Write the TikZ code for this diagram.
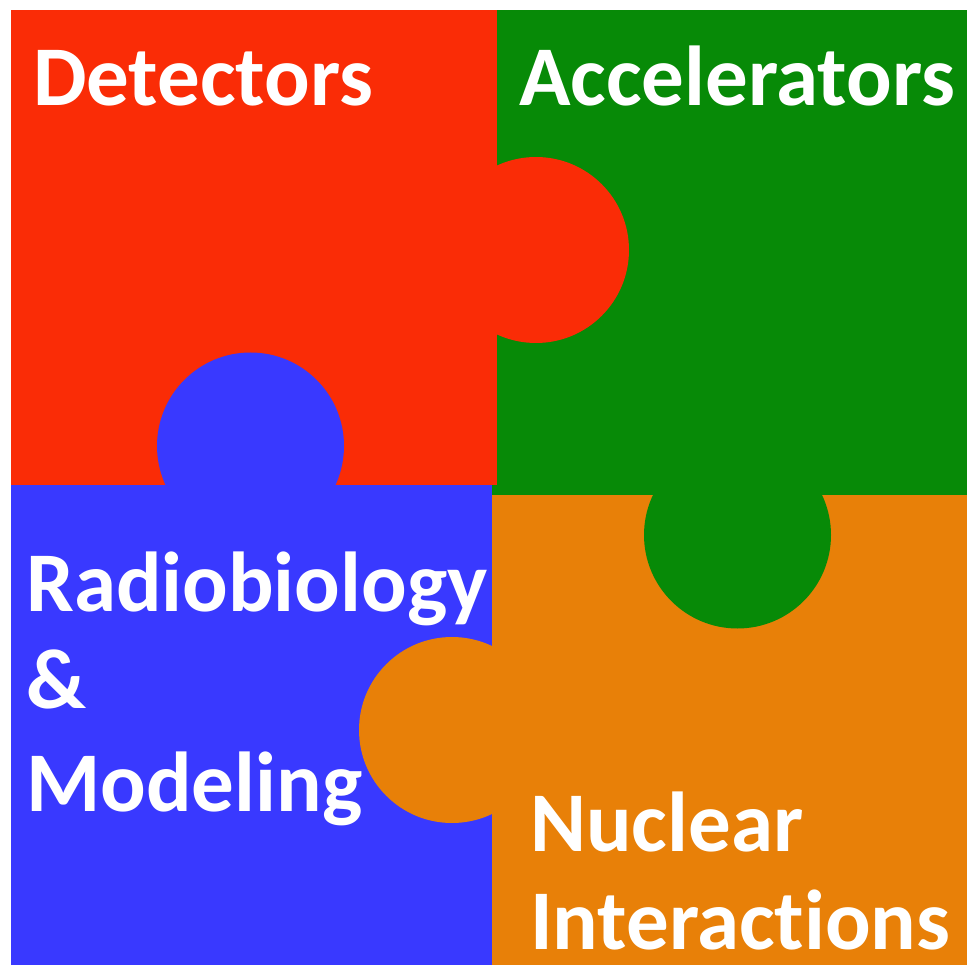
\documentclass[tikz,border=0pt]{standalone}
\usepackage{fontspec}
\setmainfont{Carlito}[Ligatures={NoCommon,NoContextual}]
\definecolor{pzred}{RGB}{250,44,6}
\definecolor{pzgreen}{RGB}{7,138,7}
\definecolor{pzblue}{RGB}{57,57,255}
\definecolor{pzorange}{RGB}{232,128,8}
\tikzset{
  label/.style={text=white, inner sep=0pt, anchor=base west,
    font=\fontsize{85}{100}\selectfont\bfseries},
}
\begin{document}
\begin{tikzpicture}[x=1pt,y=-1pt]
  \useasboundingbox (0,0) rectangle (967,965);
  \fill[white] (0,0) rectangle (967,965);
  % puzzle pieces: body rectangles and round tabs
  \fill[pzgreen]  (492,10) rectangle (967,495);
  \fill[pzred]    (11,10) rectangle (497,485);
  \fill[pzred]    (536,250) circle (93);
  \fill[pzblue]   (11,485) rectangle (492,965);
  \fill[pzblue]   (250.5,446) circle (93.5);
  \fill[pzorange] (492,495) rectangle (967,965);
  \fill[pzgreen]  (737.5,535) circle (93.5);
  \fill[pzorange] (452,730) circle (93);
  % labels
  \node[label] (det) at (33,106) {Detectors};
  \node[label] (acc) at (519,106) {Accelerators};
  \node[label] (rad1) at (26,611) {Radiobiology};
  \node[label] (rad2) at (26,708) {\&};
  \node[label] (rad3) at (26,811) {Modeling};
  \node[label] (nuc1) at (530,851) {Nuclear};
  \node[label, text depth=0pt] (nuc2) at (530,949) {Interactions};
\end{tikzpicture}
\end{document}
